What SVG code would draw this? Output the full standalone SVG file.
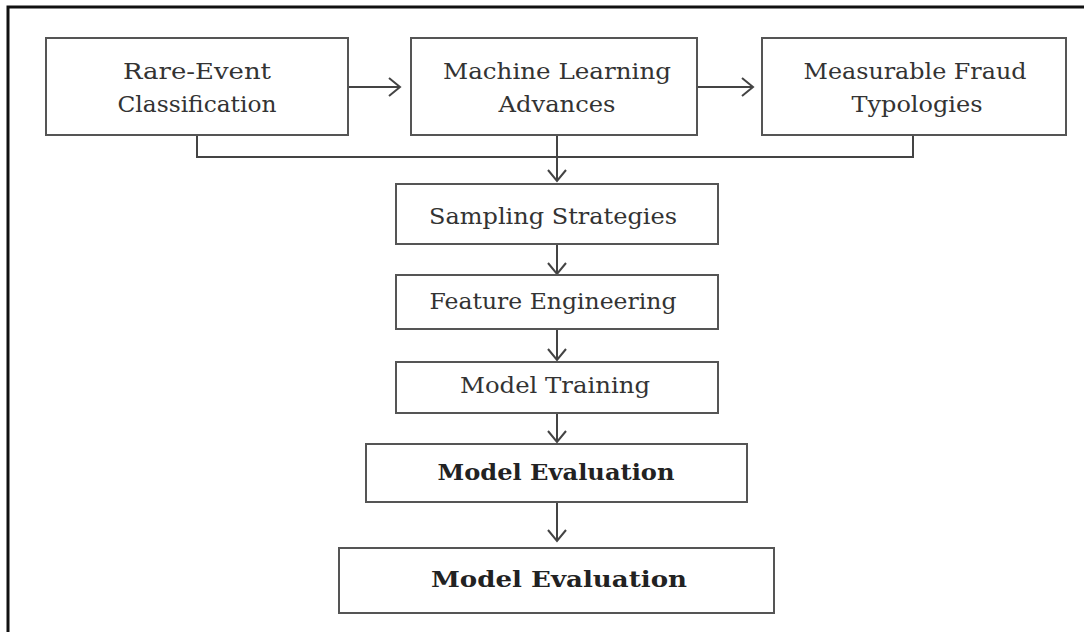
<svg xmlns="http://www.w3.org/2000/svg" width="1084" height="632" viewBox="0 0 1084 632">
<style>
.box{fill:#fff;stroke:#555;stroke-width:2}
.t{font-family:"DejaVu Serif","Liberation Serif",serif;font-size:22px;fill:#333;text-anchor:middle}
.b{font-weight:bold;fill:#222}
.c{fill:none;stroke:#444;stroke-width:2}
</style>
<defs>
<marker id="ah" markerUnits="userSpaceOnUse" markerWidth="24" markerHeight="24" viewBox="-14 -12 16 24" refX="0" refY="0" orient="auto">
<path d="M-11,-9 L0,0 L-11,9" fill="none" stroke="#444" stroke-width="2"/>
</marker>
</defs>
<rect width="1084" height="632" fill="#fff"/>
<path d="M8,632 V7 H1084" fill="none" stroke="#111" stroke-width="3"/>
<g id="connectors">
<line class="c" x1="348" y1="87" x2="400" y2="87" marker-end="url(#ah)"/>
<line class="c" x1="697" y1="87" x2="753" y2="87" marker-end="url(#ah)"/>
<polyline class="c" points="197,135 197,157 913,157 913,135"/>
<line class="c" x1="557" y1="135" x2="557" y2="181" marker-end="url(#ah)"/>
<line class="c" x1="557" y1="244" x2="557" y2="274" marker-end="url(#ah)"/>
<line class="c" x1="557" y1="329" x2="557" y2="360" marker-end="url(#ah)"/>
<line class="c" x1="557" y1="413" x2="557" y2="442" marker-end="url(#ah)"/>
<line class="c" x1="557" y1="502" x2="557" y2="541" marker-end="url(#ah)"/>
</g>
<g id="rare">
<rect class="box" x="46" y="38" width="302" height="97"/>
<text class="t" x="197" y="79" textLength="148" lengthAdjust="spacingAndGlyphs">Rare-Event</text>
<text class="t" x="197" y="112" textLength="159" lengthAdjust="spacingAndGlyphs">Classification</text>
</g>
<g id="ml">
<rect class="box" x="411" y="38" width="286" height="97"/>
<text class="t" x="557" y="79" textLength="228" lengthAdjust="spacingAndGlyphs">Machine Learning</text>
<text class="t" x="557" y="112" textLength="117" lengthAdjust="spacingAndGlyphs">Advances</text>
</g>
<g id="fraud">
<rect class="box" x="762" y="38" width="304" height="97"/>
<text class="t" x="915" y="79" textLength="223" lengthAdjust="spacingAndGlyphs">Measurable Fraud</text>
<text class="t" x="917" y="112" textLength="131" lengthAdjust="spacingAndGlyphs">Typologies</text>
</g>
<g id="sampling">
<rect class="box" x="396" y="184" width="322" height="60"/>
<text class="t" x="553" y="224" textLength="248" lengthAdjust="spacingAndGlyphs">Sampling Strategies</text>
</g>
<g id="feature">
<rect class="box" x="396" y="275" width="322" height="54"/>
<text class="t" x="553" y="309" textLength="247" lengthAdjust="spacingAndGlyphs">Feature Engineering</text>
</g>
<g id="training">
<rect class="box" x="396" y="362" width="322" height="51"/>
<text class="t" x="555" y="393" textLength="190" lengthAdjust="spacingAndGlyphs">Model Training</text>
</g>
<g id="eval1">
<rect class="box" x="366" y="444" width="381" height="58"/>
<text class="t b" x="556" y="480" textLength="237" lengthAdjust="spacingAndGlyphs">Model Evaluation</text>
</g>
<g id="eval2">
<rect class="box" x="339" y="548" width="435" height="65"/>
<text class="t b" x="559" y="587" textLength="256" lengthAdjust="spacingAndGlyphs">Model Evaluation</text>
</g>
</svg>
